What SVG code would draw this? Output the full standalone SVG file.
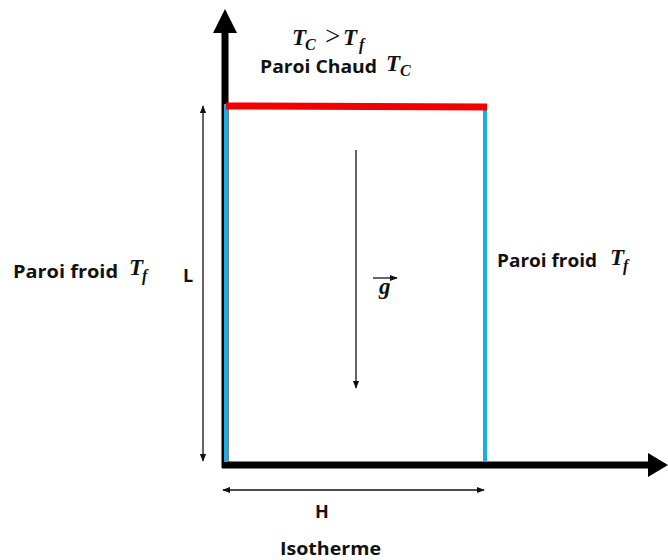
<svg xmlns="http://www.w3.org/2000/svg" width="668" height="560" viewBox="0 0 668 560">
<style>
.lbl{font-family:"Open Sans","Liberation Sans",sans-serif;font-weight:bold;font-size:18px;fill:#111}
.m{font-family:"Liberation Serif","DejaVu Serif",serif;font-style:italic;font-weight:bold;fill:#111;font-size:23px}
.s{font-size:16px}
.thin{stroke:#111;stroke-width:1.3;fill:none}
</style>
<defs>
<marker id="ah" viewBox="0 0 10 10" refX="9" refY="5" markerWidth="8" markerHeight="8" markerUnits="userSpaceOnUse" orient="auto-start-reverse"><path d="M0,1 L10,5 L0,9 Z" fill="#111"/></marker>
</defs>
<g id="axes">
<line x1="225" y1="468" x2="225" y2="30" stroke="#000" stroke-width="7"/>
<polygon points="225,9 213,33 237,33" fill="#000"/>
<line x1="222" y1="465" x2="650" y2="465" stroke="#000" stroke-width="7"/>
<polygon points="668,465 648,453 648,477" fill="#000"/>
</g>
<g id="walls">
<line x1="226" y1="104" x2="226" y2="462" stroke="#19aee8" stroke-width="4"/>
<line x1="485" y1="106" x2="485" y2="462" stroke="#19aee8" stroke-width="4"/>
<line x1="226" y1="106" x2="487" y2="107" stroke="#f20000" stroke-width="7"/>
</g>
<g id="connectors">
<line class="thin" x1="203" y1="106" x2="203" y2="461" marker-start="url(#ah)" marker-end="url(#ah)"/>
<line class="thin" x1="223" y1="490" x2="484" y2="490" marker-start="url(#ah)" marker-end="url(#ah)"/>
<line class="thin" x1="356" y1="150" x2="356" y2="388" marker-end="url(#ah)"/>
<line class="thin" x1="373" y1="278" x2="397" y2="278" stroke-width="1.2" marker-end="url(#ah)"/>
</g>
<g id="labels">
<text class="m" x="292" y="45">T</text>
<text class="m s" x="305" y="50">C</text>
<text x="325" y="45" font-family="Liberation Serif, serif" font-size="27" fill="#111">&gt;</text>
<text class="m" x="343" y="45">T</text>
<text class="m s" x="359" y="50">f</text>
<text class="lbl" x="260" y="73" textLength="117" lengthAdjust="spacingAndGlyphs">Paroi Chaud</text>
<text class="m" x="386" y="71">T</text>
<text class="m s" x="400" y="76">C</text>
<text class="lbl" x="13" y="278" textLength="105" lengthAdjust="spacingAndGlyphs">Paroi froid</text>
<text class="m" x="129" y="275">T</text>
<text class="m s" x="142" y="281">f</text>
<text class="lbl" x="183" y="282">L</text>
<text class="lbl" x="497" y="267" textLength="100" lengthAdjust="spacingAndGlyphs">Paroi froid</text>
<text class="m" x="610" y="265">T</text>
<text class="m s" x="623" y="271">f</text>
<text class="m" x="379" y="294" font-size="20" font-weight="normal">g</text>
<text class="lbl" x="315" y="518">H</text>
<text class="lbl" x="280" y="555" textLength="101" lengthAdjust="spacingAndGlyphs">Isotherme</text>
</g>
</svg>
